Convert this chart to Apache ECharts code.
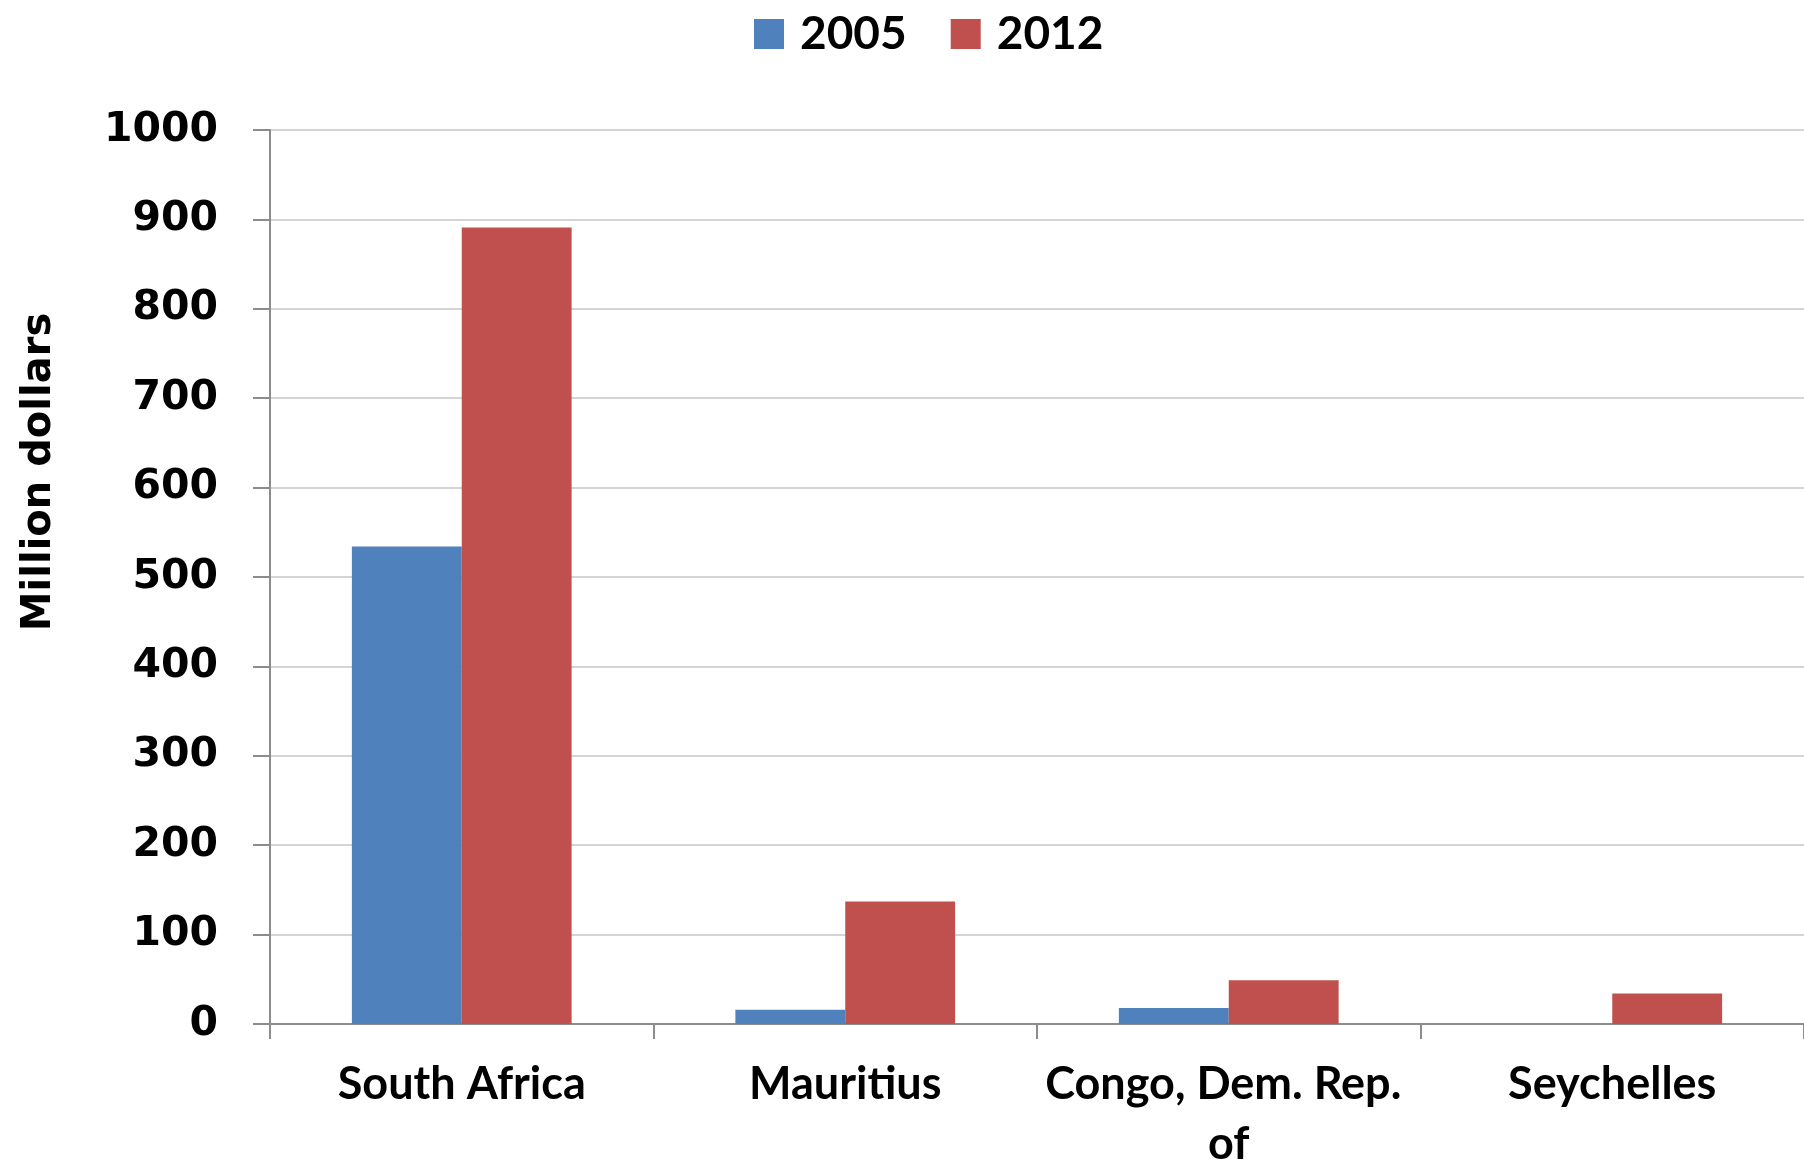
<!DOCTYPE html>
<html>
<head>
<meta charset="utf-8">
<script src="https://cdn.jsdelivr.net/npm/echarts@6/dist/echarts.min.js"></script>
<style>
    html, body { margin: 0; padding: 0; background: #fff; }
    #main { width: 1804px; height: 1165px; }
</style>
</head>
<body>
<div id="main"></div>
<script>
    // data
    var countries = ['South Africa', 'Mauritius', 'Congo, Dem. Rep. of', 'Seychelles'];
    var values2005 = [534, 16, 18, null];
    var values2012 = [891, 137, 49, 34];
    var yTicks = [0, 100, 200, 300, 400, 500, 600, 700, 800, 900, 1000];

    var myChart = echarts.init(document.getElementById('main'));

    option = {
        backgroundColor: '#fff',
        animation: false,
        legend: {
            left: 749,
            top: 6,
            icon: 'rect',
            itemWidth: 30,
            itemHeight: 30,
            itemGap: 44,
            textStyle: {
                fontFamily: 'Lato',
                fontWeight: 'bold',
                fontSize: 46,
                color: '#000',
                padding: [0, 0, 0, 11]
            },
            data: ['2005', '2012']
        },
        grid: {
            left: 270,
            right: 0,
            top: 130,
            bottom: 141,
            outerBoundsMode: 'none',
            containLabel: false
        },
        xAxis: {
            type: 'category',
            data: countries,
            axisLine: { lineStyle: { color: '#8c8c8c', width: 2 } },
            axisTick: { show: true, length: 15, lineStyle: { color: '#8c8c8c', width: 2 } },
            axisLabel: {
                margin: 30,
                fontFamily: 'Lato',
                fontWeight: 'bold',
                fontSize: 45,
                lineHeight: 60,
                color: '#000',
                width: 370,
                overflow: 'break',
                interval: 0
            }
        },
        yAxis: {
            type: 'value',
            min: yTicks[0],
            max: yTicks[yTicks.length - 1],
            interval: 100,
            name: 'Million dollars',
            nameLocation: 'middle',
            nameGap: 210,
            nameRotate: 90,
            nameTextStyle: {
                fontFamily: 'DejaVu Sans',
                fontWeight: 'bold',
                fontSize: 40,
                color: '#000',
                padding: [0, 0, 0, 210]
            },
            axisLine: { show: true, lineStyle: { color: '#8c8c8c', width: 2 } },
            axisTick: { show: true, length: 17, inside: false, lineStyle: { color: '#8c8c8c', width: 2 } },
            axisLabel: {
                margin: 52,
                fontFamily: 'DejaVu Sans',
                fontWeight: 'bold',
                fontSize: 41,
                color: '#000',
                formatter: function (v) { return String(v); }
            },
            splitLine: { lineStyle: { color: '#d4d4d4', width: 2 } }
        },
        series: [
            {
                name: '2005',
                type: 'bar',
                barGap: '0%',
                barCategoryGap: '42.7%',
                itemStyle: { color: '#4F81BD' },
                data: values2005
            },
            {
                name: '2012',
                type: 'bar',
                barGap: '0%',
                barCategoryGap: '42.7%',
                itemStyle: { color: '#C0504D' },
                data: values2012
            }
        ]
    };
    myChart.setOption(option);
</script>
</body>
</html>
